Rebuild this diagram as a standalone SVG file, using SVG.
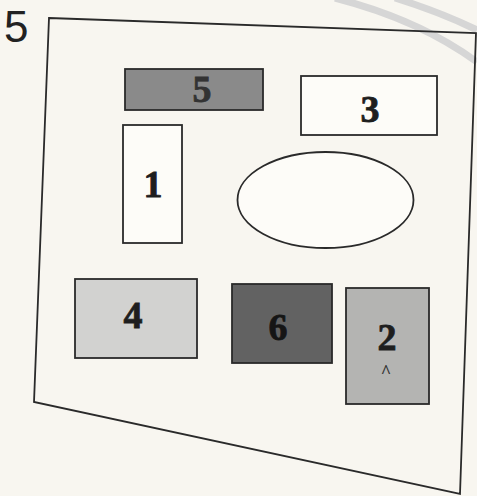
<svg xmlns="http://www.w3.org/2000/svg" width="477" height="496" viewBox="0 0 477 496">
<style>
.ol{fill:none;stroke:#2a2a2a;stroke-width:1.8}
.bx{stroke:#2a2a2a;stroke-width:1.8}
.lb{font-family:"Liberation Serif",serif;font-weight:bold;font-size:38px;fill:#1e1e1e;text-anchor:middle;stroke:#1e1e1e;stroke-width:0.8}
.wm{fill:none;stroke:#d6d6d6;stroke-width:7}
</style>
<rect width="477" height="496" fill="#f8f6f0"/>
<g id="watermark">
<path class="wm" d="M335,-2 Q420,20 477,62"/>
<path class="wm" d="M395,-2 Q440,12 477,30"/>
</g>
<text x="4" y="42" font-family="Liberation Sans,Arial,sans-serif" font-size="44" fill="#222">5</text>
<g id="outline">
<path class="ol" d="M49,18 L476,33 L460,494 L34,402 Z"/>
</g>
<g id="n5">
<rect class="bx" x="125" y="69" width="138" height="41" fill="#8a8a8a"/>
<text class="lb" x="202" y="102" style="fill:#333;stroke:#333">5</text>
</g>
<g id="n3">
<rect class="bx" x="301" y="76" width="136" height="59" fill="#fdfcf8"/>
<text class="lb" x="370" y="122">3</text>
</g>
<g id="n1">
<rect class="bx" x="123" y="125" width="59" height="118" fill="#fdfcf8"/>
<text class="lb" x="153" y="197">1</text>
</g>
<g id="ellipse">
<ellipse class="bx" cx="325.5" cy="200" rx="88" ry="48" fill="#fdfcf8"/>
</g>
<g id="n4">
<rect class="bx" x="75" y="279" width="122" height="79" fill="#d2d2d0"/>
<text class="lb" x="133" y="328">4</text>
</g>
<g id="n6">
<rect class="bx" x="232" y="284" width="100" height="79" fill="#626262"/>
<text class="lb" x="278" y="340" style="fill:#151515;stroke:#151515">6</text>
</g>
<g id="n2">
<rect class="bx" x="346" y="288" width="83" height="116" fill="#b4b4b2"/>
<text class="lb" x="387" y="350">2</text>
<text x="386" y="378" font-family="Liberation Serif,serif" font-size="18" font-weight="bold" fill="#333" text-anchor="middle">^</text>
</g>
</svg>
